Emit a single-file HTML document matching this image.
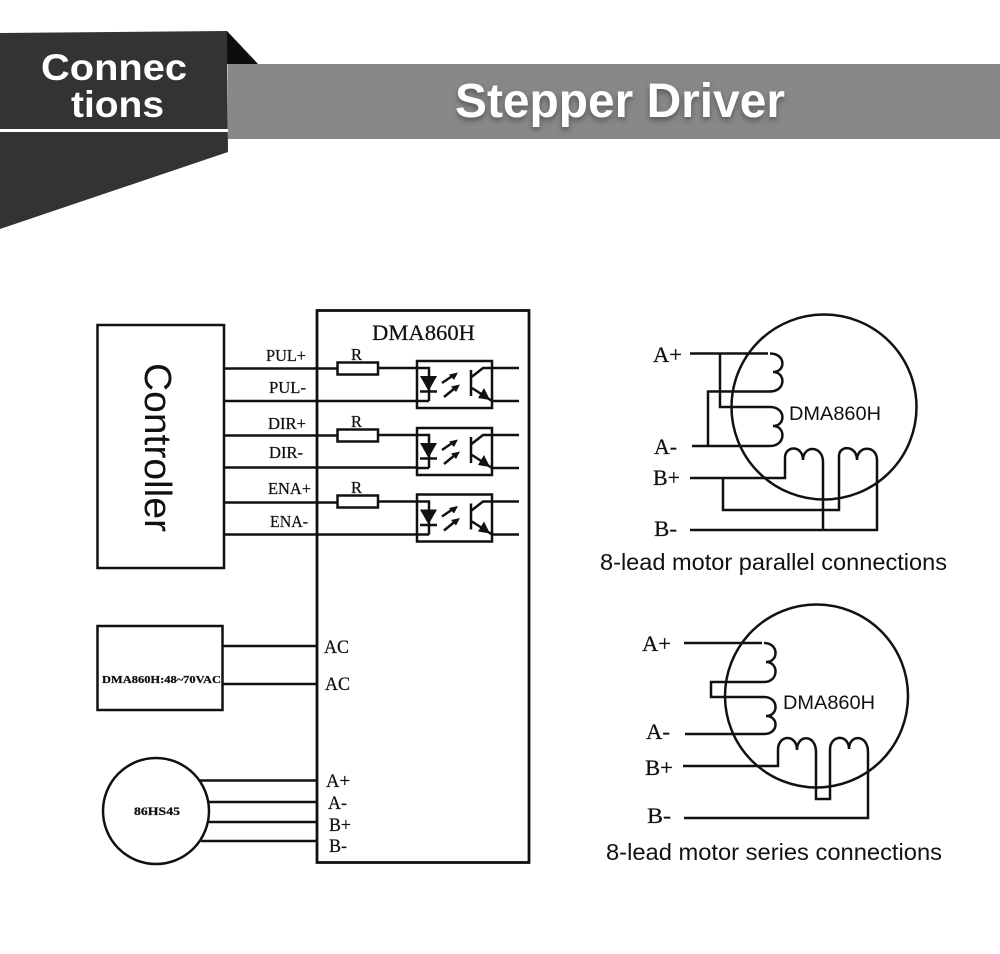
<!DOCTYPE html>
<html><head><meta charset="utf-8">
<style>
html,body{margin:0;padding:0;background:#fff}
svg{display:block}
.s{font-family:"Liberation Serif",serif;fill:#111;stroke:#111;stroke-width:.25}
.a{font-family:"Liberation Sans",sans-serif;fill:#111}
.w{font-family:"Liberation Sans",sans-serif;font-weight:bold;fill:#fff}
.l{fill:none;stroke:#111;stroke-width:2.500}
</style></head>
<body>
<svg width="1000" height="954" viewBox="0 0 1000 954" xmlns="http://www.w3.org/2000/svg">
<defs>
<filter id="b" x="-5%" y="-20%" width="110%" height="140%"><feGaussianBlur stdDeviation="3"/></filter>
<g id="opto">
  <rect x="417" y="361" width="75" height="47" class="l"/>
  <path class="l" d="M378 368H429V401M417 401H429M492 368H519M492 401H519"/>
  <path d="M420 376H437L428.500 391Z" fill="#111"/>
  <path class="l" d="M420 391.500H437"/>
  <path d="M442 383L453 375.500M444 397L455 388" class="l"/>
  <path d="M458 372.500L449 374.500L454 380ZM460 384.500L451 386.500L456 392Z" fill="#111"/>
  <path class="l" d="M471 370V396M471.500 377L483 368H492M472 388L492 401"/>
  <path d="M490 400L478 398L484 388Z" fill="#111"/>
</g>
</defs>

<!-- header -->
<rect x="228" y="64" width="772" height="75" fill="#888"/>
<path d="M227 31L258 64H227Z" fill="#0d0d0d"/>
<path d="M0 33L227 31L228 152L0 229Z" fill="#333"/>
<rect x="0" y="129" width="228" height="3" fill="#fff"/>
<text class="w" x="41" y="80" font-size="37" textLength="146" lengthAdjust="spacingAndGlyphs">Connec</text>
<text class="w" x="71" y="117" font-size="37" textLength="93" lengthAdjust="spacingAndGlyphs">tions</text>
<text x="455" y="120" font-family="Liberation Sans, sans-serif" font-weight="bold" font-size="48" fill="#555" textLength="330" lengthAdjust="spacingAndGlyphs" filter="url(#b)">Stepper Driver</text>
<text class="w" x="455" y="117" font-size="48" textLength="330" lengthAdjust="spacingAndGlyphs">Stepper Driver</text>

<!-- controller -->
<rect x="97.500" y="325" width="126.500" height="243" class="l"/>
<text class="a" font-size="38" transform="translate(145,363) rotate(90)" textLength="169" lengthAdjust="spacingAndGlyphs">Controller</text>

<!-- main box -->
<rect x="317" y="310.500" width="212" height="552" class="l" stroke-width="2.800" style="stroke-width:2.800"/>
<text class="s" x="372" y="340" font-size="22" textLength="103" lengthAdjust="spacingAndGlyphs">DMA860H</text>

<!-- signal lines -->
<path class="l" d="M224 368.500H337M224 401H417M224 435.500H337M224 467.500H417M224 502.500H337M224 534.500H417"/>
<rect x="337.500" y="362.500" width="40.500" height="12" fill="#fff" class="l" style="fill:#fff"/>
<rect x="337.500" y="429.500" width="40.500" height="12" fill="#fff" class="l" style="fill:#fff"/>
<rect x="337.500" y="495.500" width="40.500" height="12" fill="#fff" class="l" style="fill:#fff"/>
<use href="#opto"/>
<use href="#opto" y="67"/>
<use href="#opto" y="133.500"/>

<g font-size="16.500">
<text class="s" x="266" y="361" textLength="40" lengthAdjust="spacingAndGlyphs">PUL+</text>
<text class="s" x="269" y="393" textLength="37" lengthAdjust="spacingAndGlyphs">PUL-</text>
<text class="s" x="268" y="429" textLength="38" lengthAdjust="spacingAndGlyphs">DIR+</text>
<text class="s" x="269" y="458" textLength="34" lengthAdjust="spacingAndGlyphs">DIR-</text>
<text class="s" x="268" y="494" textLength="43" lengthAdjust="spacingAndGlyphs">ENA+</text>
<text class="s" x="270" y="527" textLength="38" lengthAdjust="spacingAndGlyphs">ENA-</text>
<text class="s" x="351" y="360">R</text>
<text class="s" x="351" y="427">R</text>
<text class="s" x="351" y="493">R</text>
</g>

<!-- power -->
<rect x="97.500" y="626" width="125" height="84" class="l"/>
<text class="s" x="102" y="683" font-size="11" font-weight="bold" textLength="119" lengthAdjust="spacingAndGlyphs">DMA860H:48~70VAC</text>
<path class="l" d="M222 646H317M222 684H317"/>
<g font-size="18.500">
<text class="s" x="324" y="653" textLength="25" lengthAdjust="spacingAndGlyphs">AC</text>
<text class="s" x="325" y="690" textLength="25" lengthAdjust="spacingAndGlyphs">AC</text>
</g>

<!-- small motor -->
<circle cx="156" cy="811" r="53" class="l"/>
<text class="s" x="134" y="815" font-size="12" font-weight="bold" textLength="46" lengthAdjust="spacingAndGlyphs">86HS45</text>
<path class="l" d="M200 780.500H317M209 802H317M209 822H317M201 841H317"/>
<g font-size="18.500">
<text class="s" x="326" y="787" textLength="24" lengthAdjust="spacingAndGlyphs">A+</text>
<text class="s" x="328" y="809" textLength="19" lengthAdjust="spacingAndGlyphs">A-</text>
<text class="s" x="329" y="831" textLength="22" lengthAdjust="spacingAndGlyphs">B+</text>
<text class="s" x="329" y="852" textLength="18" lengthAdjust="spacingAndGlyphs">B-</text>
</g>

<!-- parallel motor -->
<circle cx="824" cy="407" r="92.500" class="l"/>
<path class="l" d="M690 353.500H768M770 353.500C786 353.500 786 372 773 372C786 372 786 391.500 770 391.500H708V446M692 446H770C786 446 786 426 773 426C786 426 786 407 770 407H720V353.500"/>
<path class="l" d="M690 478H785V458C785 445 803 445 803 460C803 445 823 445 823 462V530M723 478V510H839V456C839 445 857 445 857 460C857 445 877 445 877 460V530H690"/>
<text class="a" x="789" y="420" font-size="19" textLength="92" lengthAdjust="spacingAndGlyphs">DMA860H</text>
<g font-size="22">
<text class="s" x="653" y="362" textLength="29" lengthAdjust="spacingAndGlyphs">A+</text>
<text class="s" x="654" y="454" textLength="23" lengthAdjust="spacingAndGlyphs">A-</text>
<text class="s" x="653" y="485" textLength="27" lengthAdjust="spacingAndGlyphs">B+</text>
<text class="s" x="654" y="536" textLength="23" lengthAdjust="spacingAndGlyphs">B-</text>
</g>
<text class="a" x="600" y="570" font-size="23" textLength="347" lengthAdjust="spacingAndGlyphs">8-lead motor parallel connections</text>

<!-- series motor -->
<circle cx="816.500" cy="696" r="91.500" class="l"/>
<path class="l" d="M684 643H762M764 643C779 643 779 662 766 662C779 662 779 682 764 682H711V697H764C779 697 779 716 766 716C779 716 779 734 764 734H685"/>
<path class="l" d="M683 766H778V750C778 734 797 734 797 750C797 734 816 734 816 752V799H830V750C830 734 849 734 849 749C849 734 868 734 868 752V818H684"/>
<text class="a" x="783" y="709" font-size="19" textLength="92" lengthAdjust="spacingAndGlyphs">DMA860H</text>
<g font-size="22">
<text class="s" x="642" y="651" textLength="29" lengthAdjust="spacingAndGlyphs">A+</text>
<text class="s" x="646" y="739" textLength="24" lengthAdjust="spacingAndGlyphs">A-</text>
<text class="s" x="645" y="775" textLength="28" lengthAdjust="spacingAndGlyphs">B+</text>
<text class="s" x="647" y="823" textLength="24" lengthAdjust="spacingAndGlyphs">B-</text>
</g>
<text class="a" x="606" y="860" font-size="23" textLength="336" lengthAdjust="spacingAndGlyphs">8-lead motor series connections</text>
</svg>
</body></html>
